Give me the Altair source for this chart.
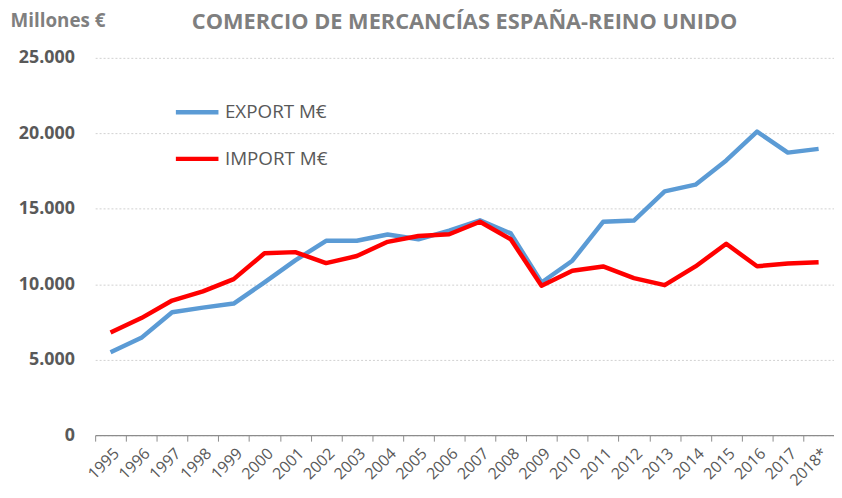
import altair as alt
import pandas as pd

years = ["1995", "1996", "1997", "1998", "1999", "2000", "2001", "2002", "2003", "2004",
         "2005", "2006", "2007", "2008", "2009", "2010", "2011", "2012", "2013", "2014",
         "2015", "2016", "2017", "2018*"]
export_me = [5500, 6450, 8150, 8450, 8720, 10120, 11580, 12880, 12880, 13300,
             12980, 13550, 14240, 13370, 10120, 11560, 14140, 14220, 16150, 16600,
             18200, 20110, 18720, 18970]
import_me = [6800, 7760, 8920, 9530, 10340, 12050, 12130, 11400, 11870, 12810,
             13200, 13310, 14140, 12980, 9900, 10890, 11180, 10410, 9940, 11180,
             12680, 11190, 11370, 11460]
series = ["EXPORT M€", "IMPORT M€"]
colors = ["#5b9bd5", "#ff0000"]

rows = []
for i, y in enumerate(years):
    rows.append({"year": y, "serie": series[0], "value": export_me[i], "order": i})
    rows.append({"year": y, "serie": series[1], "value": import_me[i], "order": i})
df = pd.DataFrame(rows)

FONT = "Open Sans"
GRAY = "#595959"

chart = alt.Chart(df).mark_line(strokeWidth=4.5, strokeJoin="round").encode(
    x=alt.X("year:O", sort=years, bandPosition=0.5,
            scale=alt.Scale(type="band", paddingInner=0, paddingOuter=0),
            axis=alt.Axis(title=None, labelAngle=-45, labelFont=FONT, labelFontSize=16,
                          labelColor=GRAY, tickBand="extent", tickColor="#8c8c8c",
                          tickSize=6, domainColor="#8c8c8c", domainWidth=1.2,
                          labelPadding=4, grid=False)),
    y=alt.Y("value:Q", scale=alt.Scale(domain=[0, 25000]),
            axis=alt.Axis(values=[0, 5000, 10000, 15000, 20000, 25000],
                          labelExpr="replace(format(datum.value, ',d'), ',', '.')",
                          labelFont=FONT, labelFontSize=18, labelFontWeight="bold",
                          labelColor=GRAY, labelPadding=21, domain=False, ticks=False,
                          gridDash=[2, 2], gridColor="#d0d0d0", gridWidth=1,
                          title="Millones €", titleAngle=0, titleFont=FONT,
                          titleFontSize=19, titleFontWeight="bold", titleColor="#7f7f7f",
                          titleAlign="left", titleBaseline="middle", titleX=-86, titleY=-38)),
    color=alt.Color("serie:N", sort=series,
                    scale=alt.Scale(domain=series, range=colors),
                    legend=alt.Legend(title=None, orient="none", legendX=79, legendY=31,
                                      symbolType="stroke", symbolStrokeWidth=4.5,
                                      symbolSize=1849, labelFont=FONT, labelFontSize=19,
                                      labelColor=GRAY, labelOffset=4, rowPadding=13)),
    order="order:Q",
).properties(
    width=746, height=381,
    title=alt.TitleParams("COMERCIO DE MERCANCÍAS ESPAÑA-REINO UNIDO", font=FONT,
                          fontSize=22, fontWeight="bold", color="#7f7f7f",
                          anchor="middle", offset=-23),
    autosize="none",
    padding={"left": 88, "top": 48, "right": 0, "bottom": 53},
).configure_view(stroke=None)

chart.save("out.html", embed_options={"renderer": "svg", "actions": False})
